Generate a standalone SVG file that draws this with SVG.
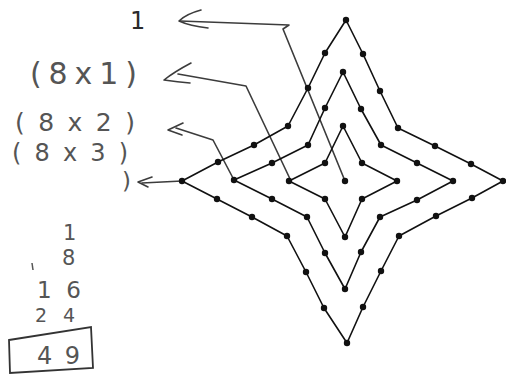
<svg xmlns="http://www.w3.org/2000/svg" width="506" height="377" viewBox="0 0 506 377">
<style>
.ring{fill:none;stroke:#111;stroke-width:1.6;stroke-linejoin:round}
.dot{fill:#111}
.conn{fill:none;stroke:#3c3c3c;stroke-width:1.6;stroke-linecap:round;stroke-linejoin:round}
.hand{font-family:"DejaVu Sans","Liberation Sans",sans-serif;fill:#2a2a2a}
.pencil{font-family:"DejaVu Sans","Liberation Sans",sans-serif;fill:#555}
</style>
<defs>
<circle id="d" r="3.2" class="dot"/>
</defs>
<rect width="506" height="377" fill="#fff"/>

<g id="connectors">
  <path class="conn" d="M180,21 Q232,23 289,25 L283,29 L345,181"/>
  <path class="conn" d="M201,10 Q186,14 179,21 Q190,26 208,28"/>
  <path class="conn" d="M178,74 L246,86 L291,181"/>
  <path class="conn" d="M191,63 Q174,72 164,80 Q178,82 190,83"/>
  <path class="conn" d="M176,128 L213,140 L234,180"/>
  <path class="conn" d="M183,123 L168,130 L182,135"/>
  <path class="conn" d="M142,183 L182,181"/>
  <path class="conn" d="M152,177 L138,182 L148,187"/>
</g>

<g id="star-outer">
  <polygon class="ring" points="346,20 325,53 308,88 288,126 254,145 218,162 182,181 217,199 252,217 287,236 306,272 324,308 347,343 363,307 381,271 399,236 436,216 472,198 503,181 471,164 435,146 398,128 380,91 363,54"/>
  <use href="#d" x="346" y="20"/><use href="#d" x="325" y="53"/><use href="#d" x="308" y="88"/><use href="#d" x="288" y="126"/>
  <use href="#d" x="254" y="145"/><use href="#d" x="218" y="162"/><use href="#d" x="182" y="181"/><use href="#d" x="217" y="199"/>
  <use href="#d" x="252" y="217"/><use href="#d" x="287" y="236"/><use href="#d" x="306" y="272"/><use href="#d" x="324" y="308"/>
  <use href="#d" x="347" y="343"/><use href="#d" x="363" y="307"/><use href="#d" x="381" y="271"/><use href="#d" x="399" y="236"/>
  <use href="#d" x="436" y="216"/><use href="#d" x="472" y="198"/><use href="#d" x="503" y="181"/><use href="#d" x="471" y="164"/>
  <use href="#d" x="435" y="146"/><use href="#d" x="398" y="128"/><use href="#d" x="380" y="91"/><use href="#d" x="363" y="54"/>
</g>

<g id="star-middle">
  <polygon class="ring" points="343,72 325,108 308,145 272,163 234,180 272,199 307,217 325,253 345,289 361,252 380,217 417,200 453,181 417,163 381,145 361,109"/>
  <use href="#d" x="343" y="72"/><use href="#d" x="325" y="108"/><use href="#d" x="308" y="145"/><use href="#d" x="272" y="163"/>
  <use href="#d" x="234" y="180"/><use href="#d" x="272" y="199"/><use href="#d" x="307" y="217"/><use href="#d" x="325" y="253"/>
  <use href="#d" x="345" y="289"/><use href="#d" x="361" y="252"/><use href="#d" x="380" y="217"/><use href="#d" x="417" y="200"/>
  <use href="#d" x="453" y="181"/><use href="#d" x="417" y="163"/><use href="#d" x="381" y="145"/><use href="#d" x="361" y="109"/>
</g>

<g id="star-inner">
  <polygon class="ring" points="343,126 325,163 289,181 325,199 345,237 362,199 397,181 362,163"/>
  <use href="#d" x="343" y="126"/><use href="#d" x="325" y="163"/><use href="#d" x="289" y="181"/><use href="#d" x="325" y="199"/>
  <use href="#d" x="345" y="237"/><use href="#d" x="362" y="199"/><use href="#d" x="397" y="181"/><use href="#d" x="362" y="163"/>
</g>

<g id="center">
  <use href="#d" x="345" y="181"/>
</g>

<g id="labels">
  <text class="hand" x="130" y="29" font-size="24">1</text>
  <text class="pencil" x="30" y="84" font-size="30" textLength="107" lengthAdjust="spacing">(8x1)</text>
  <text class="pencil" x="15" y="131" font-size="25" textLength="120" lengthAdjust="spacing">(8x2)</text>
  <text class="pencil" x="12" y="161" font-size="24" textLength="116" lengthAdjust="spacing">(8x3)</text>
  <text class="pencil" x="122" y="189" font-size="23">)</text>
</g>

<g id="sum">
  <text class="pencil" x="63" y="240" font-size="21">1</text>
  <text class="pencil" x="62" y="265" font-size="21">8</text>
  <text class="pencil" x="37" y="298" font-size="23" textLength="44" lengthAdjust="spacing">16</text>
  <text class="pencil" x="35" y="322" font-size="19" textLength="40" lengthAdjust="spacing">24</text>
  <line x1="32" y1="263" x2="33" y2="270" stroke="#555" stroke-width="1.5"/>
  <polygon points="9,340 91,327 93,368 10,373" fill="none" stroke="#333" stroke-width="1.8"/>
  <text class="pencil" x="37" y="364" font-size="24" textLength="43" lengthAdjust="spacing">49</text>
</g>
</svg>
